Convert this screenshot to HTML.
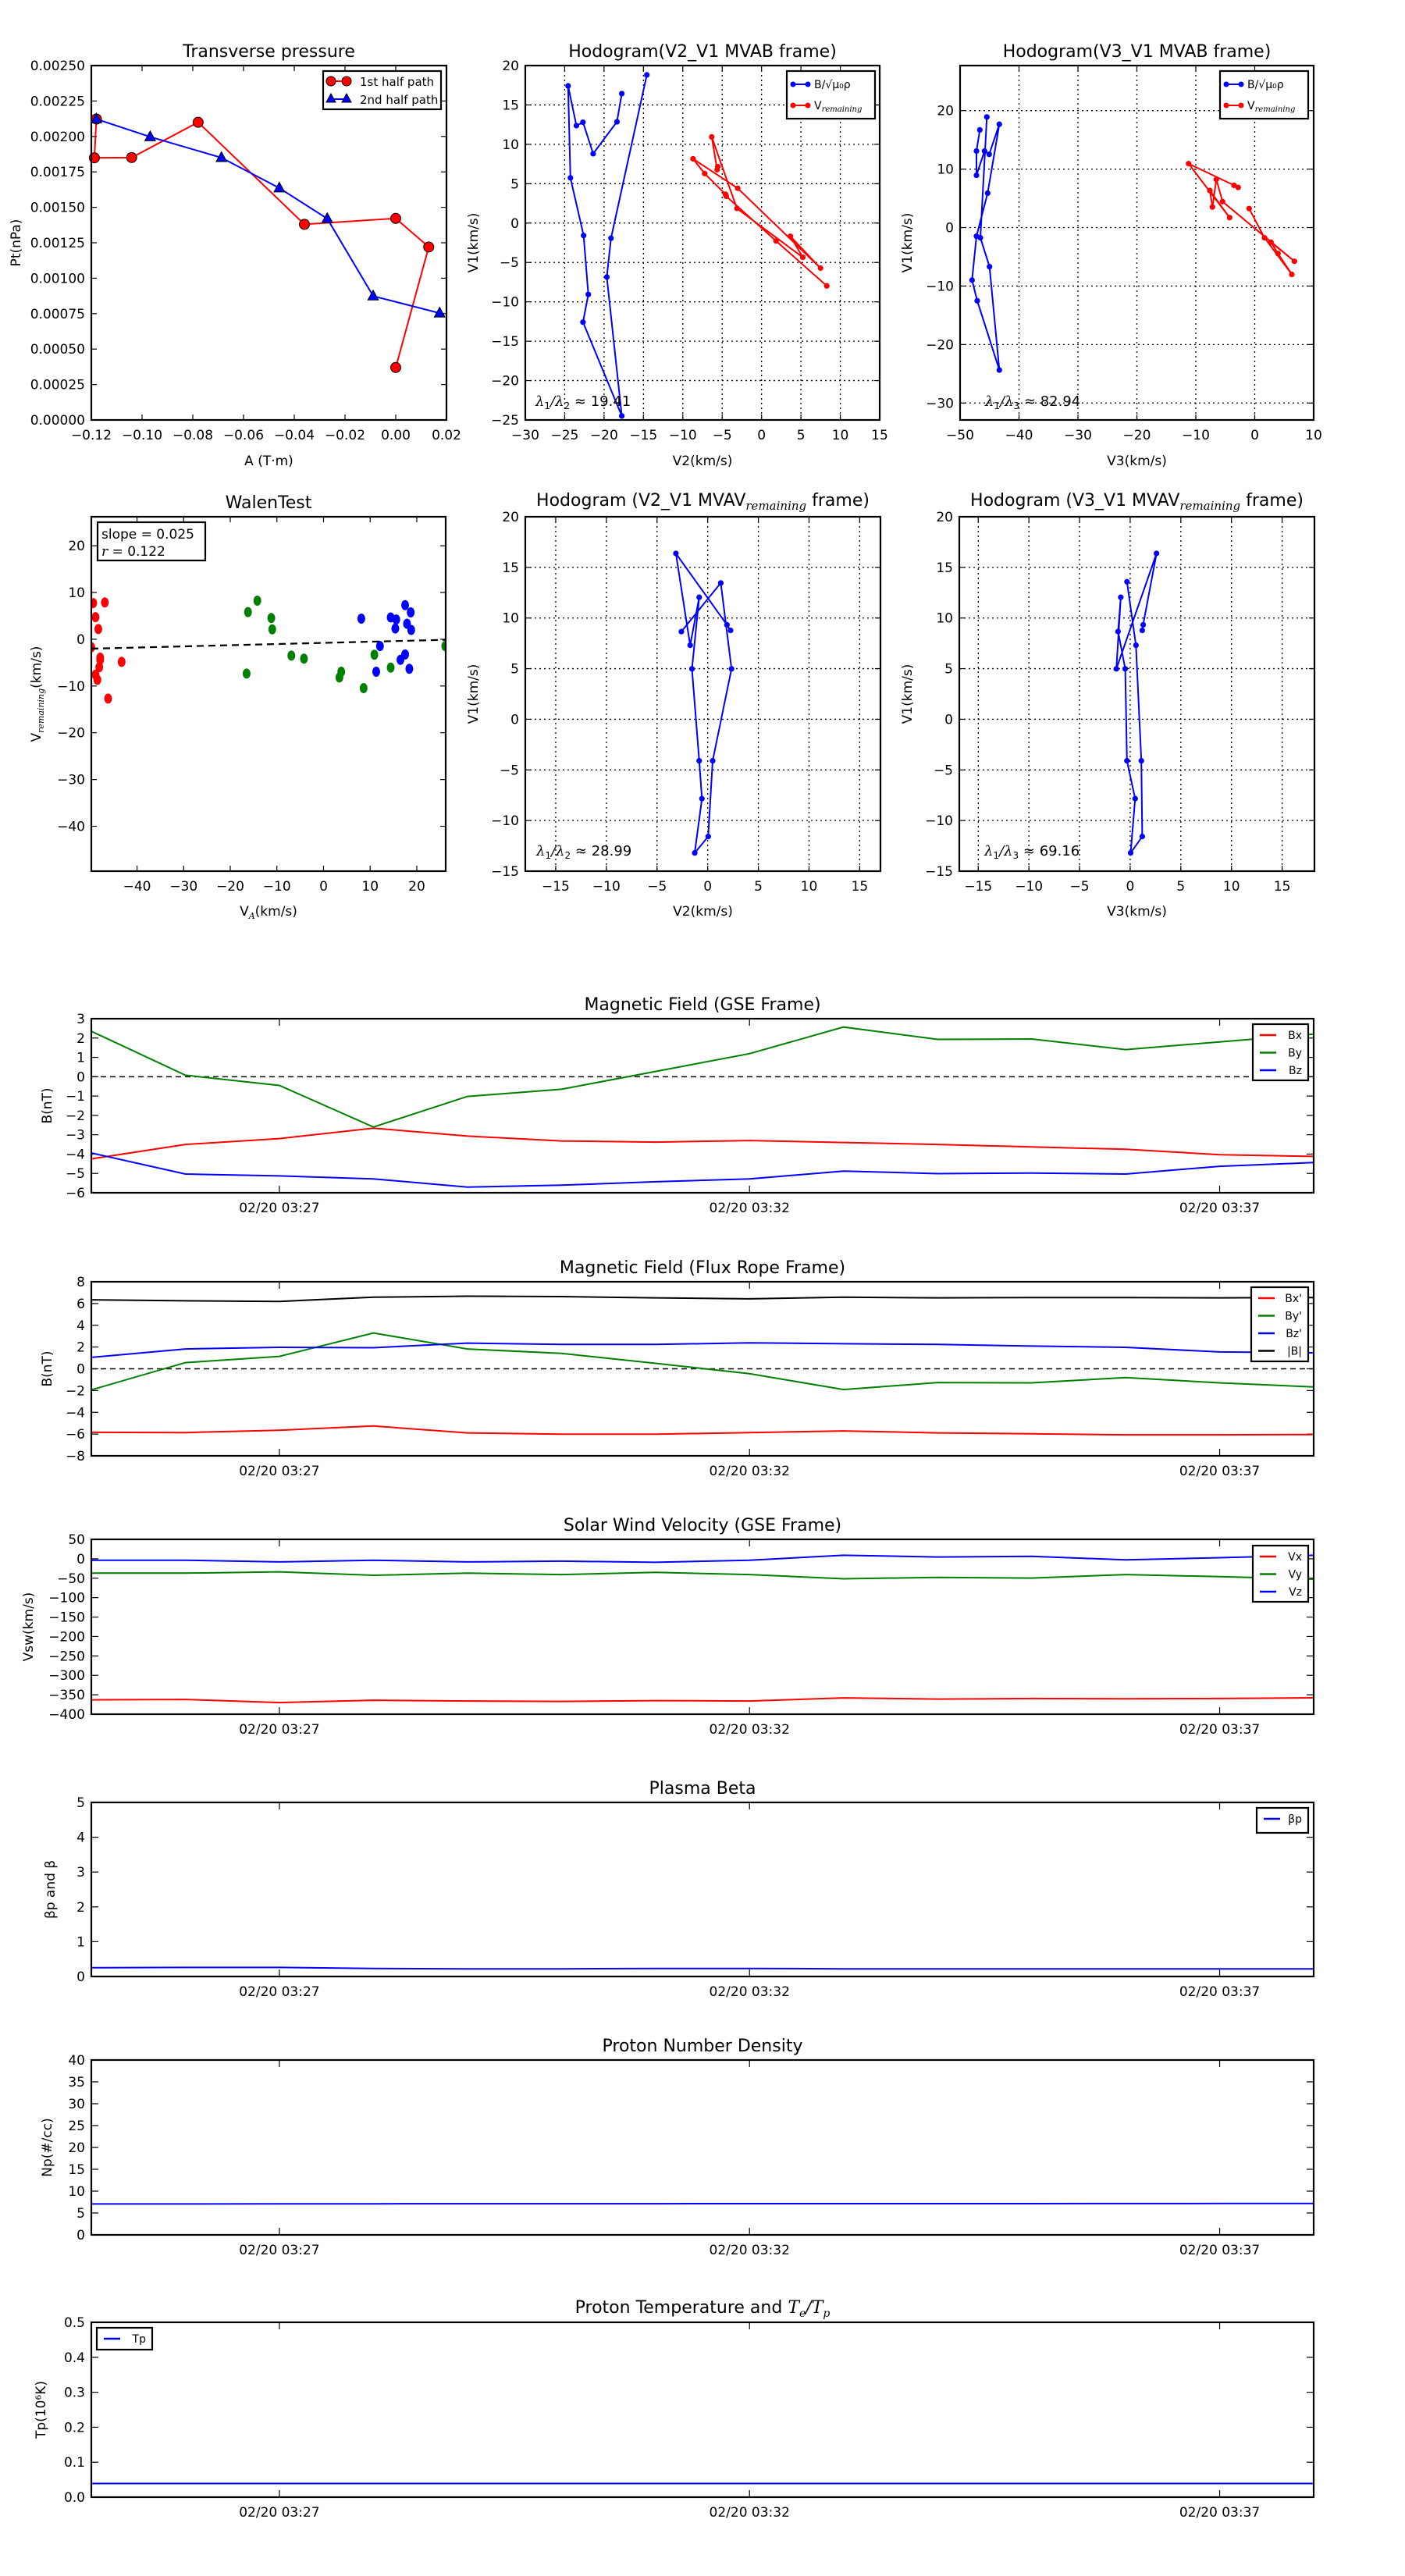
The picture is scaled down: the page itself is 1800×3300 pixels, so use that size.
<!DOCTYPE html>
<html><head><meta charset="utf-8"><title>Flux rope analysis</title>
<style>html,body{margin:0;padding:0;background:#fff}svg{display:block}</style></head>
<body>
<svg id="fig" xmlns="http://www.w3.org/2000/svg" width="1800" height="3300" viewBox="0 0 1800 3300" font-family="DejaVu Sans, Liberation Sans, sans-serif">
<rect x="0" y="0" width="1800" height="3300" fill="#fff"/>
</svg>
<script>
// ===== data =====
const tpRedA=[-0.0, 0.013, 0.0, -0.036, -0.0779, -0.1041, -0.1188, -0.118];
const tpRedP=[0.00037, 0.00122, 0.001422, 0.00138, 0.0021, 0.001851, 0.001849, 0.002123];
const tpBlueA=[-0.118, -0.0968, -0.0687, -0.0459, -0.027, -0.0089, 0.0173];
const tpBlueP=[0.002123, 0.001997, 0.00185, 0.001636, 0.00142, 0.000874, 0.000754];

const h1BlueX=[-17.75,-18.36,-21.39,-22.68,-23.51,-24.57,-24.27,-22.60,-22.00,-22.68,-17.75,-19.65,-19.12,-14.57];
const h1BlueY=[16.44,12.86,8.81,12.80,12.37,17.42,5.74,-1.58,-9.06,-12.58,-24.49,-6.85,-1.92,18.82];
const h1RedX=[-5.57,-5.64,-6.33,-3.13,5.24,3.66,7.49,-3.03,-8.70,-7.22,-4.58,-4.48,1.85,8.28];
const h1RedY=[7.17,6.78,10.94,1.86,-4.34,-1.68,-5.72,4.42,8.16,6.29,3.66,3.40,-2.27,-7.98];

const h2BlueX=[-46.65,-47.22,-47.22,-45.85,-45.06,-43.34,-45.32,-47.22,-47.97,-47.09,-43.34,-45.01,-46.56,-45.46];
const h2BlueY=[16.70,13.09,8.94,13.09,12.52,17.68,5.89,-1.48,-8.99,-12.52,-24.36,-6.69,-1.75,18.91];
const h2RedX=[-2.81,-3.51,-11.23,-4.26,-7.62,-7.18,-6.52,-5.46,6.73,2.75,3.95,6.29,1.66,-0.95];
const h2RedY=[6.86,7.22,10.93,1.70,6.33,3.51,8.23,4.44,-5.76,-2.50,-4.44,-8.01,-1.75,3.25];

const walRedX=[-49.4,-46.9,-48.9,-48.3,-49.8,-47.9,-47.9,-48.1,-48.9,-48.5,-46.2,-43.3];
const walRedY=[7.74,7.87,4.73,2.18,-1.71,-3.94,-4.4,-5.99,-7.59,-8.67,-12.69,-4.84];
const walGreenX=[-16.2,-14.2,-11.2,-11.0,-16.5,-6.9,-4.2,3.8,3.4,8.6,10.9,14.4,26.1];
const walGreenY=[5.81,8.25,4.54,2.12,-7.34,-3.5,-4.14,-6.94,-8.17,-10.45,-3.31,-6.06,-1.46];
const walBlueX=[8.1,14.4,15.6,15.4,12.1,17.5,18.7,17.9,18.8,11.3,16.5,17.5,18.4];
const walBlueY=[4.41,4.67,4.22,2.3,-1.46,7.29,5.75,3.33,1.99,-6.94,-4.39,-3.25,-6.31];
const walFit=[0.025,-0.77];

const h3X=[2.26,1.90,-3.14,-1.73,-0.84,-1.55,-0.84,-0.57,-1.28,0.05,0.49,2.35,1.29,-2.60];
const h3Y=[8.78,9.33,16.38,7.31,12.05,4.98,-4.10,-7.84,-13.20,-11.58,-4.10,4.98,13.46,8.66];
const h4X=[1.19,1.28,2.60,-1.37,-0.93,-1.20,-0.49,-0.32,0.49,0.04,1.19,1.10,0.57,-0.32];
const h4Y=[8.78,9.33,16.38,4.98,12.05,8.66,4.98,-4.10,-7.84,-13.20,-11.58,-4.10,7.31,13.58];

const tMin=[0,1,2,3,4,5,6,7,8,9,10,11,12,13];
const timeTickVals=[2,7,12];
const timeTickLabels=["02/20 03:27","02/20 03:32","02/20 03:37"];
const bxGSE=[-4.25,-3.5,-3.2,-2.66,-3.07,-3.32,-3.38,-3.3,-3.4,-3.5,-3.63,-3.75,-4.03,-4.12];
const byGSE=[2.35,0.08,-0.45,-2.6,-1.02,-0.65,0.27,1.19,2.57,1.93,1.95,1.4,1.8,2.2];
const bzGSE=[-3.94,-5.03,-5.13,-5.28,-5.71,-5.61,-5.43,-5.28,-4.88,-5.01,-4.98,-5.03,-4.63,-4.44];
const bxFR=[-5.83,-5.86,-5.65,-5.26,-5.89,-6.01,-6.01,-5.86,-5.71,-5.89,-5.98,-6.07,-6.07,-6.04];
const byFR=[-1.94,0.57,1.14,3.29,1.82,1.41,0.5,-0.45,-1.91,-1.26,-1.29,-0.81,-1.29,-1.67];
const bzFR=[1.05,1.82,1.97,1.94,2.36,2.24,2.24,2.39,2.3,2.24,2.09,1.97,1.55,1.47];
const bmFR=[6.34,6.25,6.19,6.58,6.67,6.64,6.52,6.43,6.58,6.52,6.55,6.55,6.52,6.55];
const vx=[-363,-362,-370,-364,-366,-367,-365,-366,-358,-361,-359.6,-360.5,-359.6,-357.8];
const vy=[-37,-37,-33.5,-42.5,-37,-40.6,-35,-40.6,-51.5,-47.9,-49.7,-40.6,-46,-52.4];
const vz=[-3.6,-3.6,-8,-3.6,-8,-6,-9,-3.6,9,4.5,6.3,-2.7,2.7,9];
const betaP=[0.25,0.26,0.26,0.23,0.22,0.22,0.23,0.23,0.22,0.22,0.22,0.22,0.22,0.22];
const np=[7.08,7.08,7.1,7.1,7.12,7.12,7.12,7.14,7.14,7.15,7.15,7.16,7.18,7.2];
const tp=[0.039,0.039,0.039,0.039,0.039,0.039,0.039,0.039,0.039,0.039,0.039,0.039,0.039,0.039];

// ===== helpers =====
const NS="http://www.w3.org/2000/svg";
const svg=document.getElementById('fig');
function mk(tag,parent,attrs){const e=document.createElementNS(NS,tag);for(const k in attrs)e.setAttribute(k,attrs[k]);parent.appendChild(e);return e;}
function fmtMinus(s){return String(s).replace('-','\u2212');}
function txt(parent,x,y,str,size,anchor){const t=mk('text',parent,{x:x,y:y,'font-size':size,'text-anchor':anchor||'middle',fill:'#000'});t.textContent=str;return t;}

function makeAxes(name,x0,y0,x1,y1,xlim,ylim){
  const g=mk('g',svg,{});
  
  
  const ax={g:g,x0:x0,y0:y0,x1:x1,y1:y1,
    x:v=>x0+(v-xlim[0])/(xlim[1]-xlim[0])*(x1-x0),
    y:v=>y1-(v-ylim[0])/(ylim[1]-ylim[0])*(y1-y0)};
  return ax;
}
function frame(ax){
  const r=mk('rect',ax.g,{x:ax.x0,y:ax.y0,width:ax.x1-ax.x0,height:ax.y1-ax.y0,fill:'none',stroke:'#000','stroke-width':2.2});
  
  
}
function xticks(ax,vals,labels,grid,len){
  len=len||7;
  const tg=mk('g',ax.g,{});
  
  
  vals.forEach((v,i)=>{
    const X=ax.x(v);
    if(grid && X>ax.x0+1 && X<ax.x1-1) mk('line',tg,{x1:X,y1:ax.y0,x2:X,y2:ax.y1,stroke:'#000','stroke-width':1.3,'stroke-dasharray':'2,4'});
    mk('line',tg,{x1:X,y1:ax.y1,x2:X,y2:ax.y1-len,stroke:'#000','stroke-width':1.2});
    mk('line',tg,{x1:X,y1:ax.y0,x2:X,y2:ax.y0+len,stroke:'#000','stroke-width':1.2});
    const t=txt(tg,X,ax.y1+25,labels[i],17,'middle');
    
    
  });
}
function yticks(ax,vals,labels,grid,len){
  len=len||7;
  const tg=mk('g',ax.g,{});
  
  
  vals.forEach((v,i)=>{
    const Y=ax.y(v);
    if(grid && Y>ax.y0+1 && Y<ax.y1-1) mk('line',tg,{x1:ax.x0,y1:Y,x2:ax.x1,y2:Y,stroke:'#000','stroke-width':1.3,'stroke-dasharray':'2,4'});
    mk('line',tg,{x1:ax.x0,y1:Y,x2:ax.x0+len,y2:Y,stroke:'#000','stroke-width':1.2});
    mk('line',tg,{x1:ax.x1,y1:Y,x2:ax.x1-len,y2:Y,stroke:'#000','stroke-width':1.2});
    const t=txt(tg,ax.x0-8,Y+6,labels[i],17,'end');
    
    
  });
}
function rng(a,b,s){const r=[];for(let v=a;v<=b+1e-9;v+=s)r.push(Math.round(v*1e6)/1e6);return r;}
function title(ax,str,name){const t=txt(ax.g,(ax.x0+ax.x1)/2,ax.y0-11,str,22,'middle');return t;}
function xlabel(ax,str,y){const t=txt(ax.g,(ax.x0+ax.x1)/2,y,str,17,'middle');return t;}
function ylabel(ax,str,x){const cy=(ax.y0+ax.y1)/2;const t=mk('text',ax.g,{x:x,y:cy,'font-size':17,'text-anchor':'middle',transform:'rotate(-90 '+x+' '+cy+')'});t.textContent=str;return t;}
function pathOf(ax,xs,ys){return xs.map((v,i)=>(i?'L':'M')+ax.x(v).toFixed(1)+','+ax.y(ys[i]).toFixed(1)).join(' ');}
function clip(ax,id){const d=mk('defs',svg,{});const c=mk('clipPath',d,{id:id});mk('rect',c,{x:ax.x0,y:ax.y0,width:ax.x1-ax.x0,height:ax.y1-ax.y0});}
function legendBox(parent,x,y,w,h){const r=mk('rect',parent,{x:x,y:y,width:w,height:h,fill:'#fff',stroke:'#000','stroke-width':2.2});return r;}

// ===== Transverse pressure =====
(function(){
  const ax=makeAxes('transverse-pressure-chart',117,84,572,538,[-0.12,0.02],[0,0.0025]);
  clip(ax,'c1');
  const xv=rng(-0.12,0.02,0.02);
  xticks(ax,xv,xv.map(v=>fmtMinus(v.toFixed(2))),false);
  const yv=rng(0,0.0025,0.00025);
  yticks(ax,yv,yv.map(v=>v.toFixed(5)),false);
  const sg=mk('g',ax.g,{'clip-path':'url(#c1)'});
  const pr=mk('path',sg,{d:pathOf(ax,tpRedA,tpRedP),fill:'none',stroke:'#f00','stroke-width':2});
  
  
  const pb=mk('path',sg,{d:pathOf(ax,tpBlueA,tpBlueP),fill:'none',stroke:'#00f','stroke-width':2});
  
  
  tpRedA.forEach((v,i)=>{
    const c=mk('circle',ax.g,{cx:ax.x(v),cy:ax.y(tpRedP[i]),r:6.5,fill:'#f00',stroke:'#000','stroke-width':1});
    
    
  });
  tpBlueA.forEach((v,i)=>{
    const X=ax.x(v),Y=ax.y(tpBlueP[i]);
    const p=mk('polygon',ax.g,{points:`${X},${Y-7.5} ${X-6.8},${Y+5} ${X+6.8},${Y+5}`,fill:'#00f',stroke:'#000','stroke-width':1});
    
    
  });
  frame(ax);
  title(ax,'Transverse pressure');
  xlabel(ax,'A (T\u00b7m)',596);
  ylabel(ax,'Pt(nPa)',26);
  const lg=mk('g',ax.g,{});
  
  
  legendBox(lg,414,91,151,49);
  mk('line',lg,{x1:424,y1:104,x2:444,y2:104,stroke:'#f00','stroke-width':2});
  mk('circle',lg,{cx:424,cy:104,r:6,fill:'#f00',stroke:'#000','stroke-width':1});
  mk('circle',lg,{cx:444,cy:104,r:6,fill:'#f00',stroke:'#000','stroke-width':1});
  const l1=txt(lg,461,110,'1st half path',15,'start');
  
  
  mk('line',lg,{x1:424,y1:127,x2:444,y2:127,stroke:'#00f','stroke-width':2});
  mk('polygon',lg,{points:'424,120 418,131 430,131',fill:'#00f',stroke:'#000','stroke-width':1});
  mk('polygon',lg,{points:'444,120 438,131 450,131',fill:'#00f',stroke:'#000','stroke-width':1});
  const l2=txt(lg,461,133,'2nd half path',15,'start');
  
  
})();

function series(ax,xs,ys,color,name,r,clipId){
  const g=mk('g',ax.g,clipId?{'clip-path':'url(#'+clipId+')'}:{});
  const p=mk('path',g,{d:pathOf(ax,xs,ys),fill:'none',stroke:color,'stroke-width':2});
  
  
  if(r) xs.forEach((v,i)=>{
    const c=mk('circle',g,{cx:ax.x(v),cy:ax.y(ys[i]),r:r,fill:color});
    
    
  });
}
function lambdaText(ax,x,y,sub,val){
  const t=mk('text',ax.g,{x:x,y:y,'font-size':18});
  
  
  const a=mk('tspan',t,{'font-family':'DejaVu Serif, Liberation Serif, serif','font-style':'italic'});a.textContent='\u03bb';
  const b=mk('tspan',t,{'font-size':12,dy:4});b.textContent='1';
  const c=mk('tspan',t,{dy:-4,'font-family':'DejaVu Serif, Liberation Serif, serif','font-style':'italic'});c.textContent='/\u03bb';
  const d=mk('tspan',t,{'font-size':12,dy:4});d.textContent=sub;
  const e=mk('tspan',t,{dy:-4});e.textContent=' \u2248 '+val;
}
function hodoLegend(ax,x,y){
  const lg=mk('g',ax.g,{});
  
  
  legendBox(lg,x,y,113,61);
  mk('line',lg,{x1:x+8,y1:y+17,x2:x+27,y2:y+17,stroke:'#00f','stroke-width':2});
  mk('circle',lg,{cx:x+8,cy:y+17,r:3.5,fill:'#00f'});mk('circle',lg,{cx:x+27,cy:y+17,r:3.5,fill:'#00f'});
  const t1=txt(lg,x+35,y+22,'B/\u221a\u03bc\u2080\u03c1',14,'start');
  
  
  mk('line',lg,{x1:x+8,y1:y+44,x2:x+27,y2:y+44,stroke:'#f00','stroke-width':2});
  mk('circle',lg,{cx:x+8,cy:y+44,r:3.5,fill:'#f00'});mk('circle',lg,{cx:x+27,cy:y+44,r:3.5,fill:'#f00'});
  const t2=mk('text',lg,{x:x+35,y:y+49,'font-size':14});
  
  
  const s1=mk('tspan',t2,{});s1.textContent='V';
  const s2=mk('tspan',t2,{'font-size':10,dy:3,'font-style':'italic','font-family':'DejaVu Serif, serif'});s2.textContent='remaining';
}

// ===== Hodogram 1 =====
(function(){
  const ax=makeAxes('hodogram-v2-v1-mvab-chart',673,84,1127,538,[-30,15],[-25,20]);
  clip(ax,'c2');
  const xv=rng(-30,15,5), yv=rng(-25,20,5);
  xticks(ax,xv,xv.map(fmtMinus),true);
  yticks(ax,yv,yv.map(fmtMinus),true);
  series(ax,h1BlueX,h1BlueY,'#00f','b-alfven',3.6,'c2');
  series(ax,h1RedX,h1RedY,'#f00','v-remaining',3.6,'c2');
  frame(ax);
  title(ax,'Hodogram(V2_V1 MVAB frame)');
  xlabel(ax,'V2(km/s)',596);
  ylabel(ax,'V1(km/s)',612);
  hodoLegend(ax,1008,91);
  lambdaText(ax,686,520,'2','19.41');
})();
// ===== Hodogram 2 =====
(function(){
  const ax=makeAxes('hodogram-v3-v1-mvab-chart',1230,84,1683,538,[-50,10],[-32.9,27.7]);
  clip(ax,'c3');
  const xv=rng(-50,10,10), yv=rng(-30,20,10);
  xticks(ax,xv,xv.map(fmtMinus),true);
  yticks(ax,yv,yv.map(fmtMinus),true);
  series(ax,h2BlueX,h2BlueY,'#00f','b-alfven',3.6,'c3');
  series(ax,h2RedX,h2RedY,'#f00','v-remaining',3.6,'c3');
  frame(ax);
  title(ax,'Hodogram(V3_V1 MVAB frame)');
  xlabel(ax,'V3(km/s)',596);
  ylabel(ax,'V1(km/s)',1168);
  hodoLegend(ax,1563,91);
  lambdaText(ax,1262,520,'3','82.94');
})();
// ===== Walen test =====
(function(){
  const ax=makeAxes('walen-test-chart',117,662,571,1116,[-49.8,26.2],[-49.6,26.2]);
  clip(ax,'c4');
  const xv=rng(-40,20,10), yv=rng(-40,20,10);
  xticks(ax,xv,xv.map(fmtMinus),false);
  yticks(ax,yv,yv.map(fmtMinus),false);
  const g=mk('g',ax.g,{'clip-path':'url(#c4)'});
  [[walRedX,walRedY,'#f00','walen-red-point'],[walGreenX,walGreenY,'#008000','walen-green-point'],[walBlueX,walBlueY,'#00f','walen-blue-point']].forEach(s=>{
    s[0].forEach((v,i)=>{
      const c=mk('ellipse',g,{cx:ax.x(v),cy:ax.y(s[1][i]),rx:5,ry:6.5,fill:s[2]});
      
      
    });
  });
  const xa=-49.8,xb=26.2;
  const fit=mk('line',g,{x1:ax.x(xa),y1:ax.y(walFit[0]*xa+walFit[1]),x2:ax.x(xb),y2:ax.y(walFit[0]*xb+walFit[1]),stroke:'#000','stroke-width':2.2,'stroke-dasharray':'9,6'});
  
  
  frame(ax);
  title(ax,'WalenTest');
  const xl=mk('text',ax.g,{x:344,y:1173,'font-size':17,'text-anchor':'middle'});
  
  
  const a1=mk('tspan',xl,{});a1.textContent='V';
  const a2=mk('tspan',xl,{'font-size':11,dy:4,'font-style':'italic','font-family':'DejaVu Serif, serif'});a2.textContent='A';
  const a3=mk('tspan',xl,{dy:-4});a3.textContent='(km/s)';
  const cy=(662+1116)/2;
  const yl=mk('text',ax.g,{x:52,y:cy,'font-size':17,'text-anchor':'middle',transform:'rotate(-90 52 '+cy+')'});
  
  
  const b1=mk('tspan',yl,{});b1.textContent='V';
  const b2=mk('tspan',yl,{'font-size':11,dy:4,'font-style':'italic','font-family':'DejaVu Serif, serif'});b2.textContent='remaining';
  const b3=mk('tspan',yl,{dy:-4});b3.textContent='(km/s)';
  const bx=mk('g',ax.g,{});
  
  
  legendBox(bx,125,669,138,49);
  txt(bx,130,690,'slope = 0.025',17,'start');
  const r=mk('text',bx,{x:130,y:712,'font-size':17});
  const r1=mk('tspan',r,{'font-style':'italic','font-family':'DejaVu Serif, serif'});r1.textContent='r';
  const r2=mk('tspan',r,{});r2.textContent=' = 0.122';
})();
function mvavTitle(ax,v){
  const t=mk('text',ax.g,{x:(ax.x0+ax.x1)/2,y:ax.y0-14,'font-size':22,'text-anchor':'middle'});
  
  
  const a=mk('tspan',t,{});a.textContent='Hodogram ('+v+'_V1 MVAV';
  const b=mk('tspan',t,{'font-size':15,dy:5,'font-style':'italic','font-family':'DejaVu Serif, serif'});b.textContent='remaining';
  const c=mk('tspan',t,{dy:-5});c.textContent=' frame)';
}
// ===== Hodogram 3 =====
(function(){
  const ax=makeAxes('hodogram-v2-v1-mvav-chart',673,662,1128,1116,[-18.0,17.05],[-15,20]);
  clip(ax,'c5');
  const xv=rng(-15,15,5), yv=rng(-15,20,5);
  xticks(ax,xv,xv.map(fmtMinus),true);
  yticks(ax,yv,yv.map(fmtMinus),true);
  series(ax,h3X,h3Y,'#00f','b-alfven',3.6,'c5');
  frame(ax);
  mvavTitle(ax,'V2');
  xlabel(ax,'V2(km/s)',1173);
  ylabel(ax,'V1(km/s)',612);
  lambdaText(ax,687,1096,'2','28.99');
})();
// ===== Hodogram 4 =====
(function(){
  const ax=makeAxes('hodogram-v3-v1-mvav-chart',1229,662,1684,1116,[-16.87,18.19],[-15,20]);
  clip(ax,'c6');
  const xv=rng(-15,15,5), yv=rng(-15,20,5);
  xticks(ax,xv,xv.map(fmtMinus),true);
  yticks(ax,yv,yv.map(fmtMinus),true);
  series(ax,h4X,h4Y,'#00f','b-alfven',3.6,'c6');
  frame(ax);
  mvavTitle(ax,'V3');
  xlabel(ax,'V3(km/s)',1173);
  ylabel(ax,'V1(km/s)',1168);
  lambdaText(ax,1261,1096,'3','69.16');
})();

// ===== Time series =====
function tsPanel(name,y0,y1,ylim,yv,ylabStr,ylabX,ttl,lines,zero,legend,cid){
  const ax=makeAxes(name,117,y0,1683,y1,[0,13],ylim);
  clip(ax,cid);
  xticks(ax,timeTickVals,timeTickLabels,false,9);
  yticks(ax,yv,yv.map(v=>fmtMinus(ylim[1]<1?v.toFixed(1):v)),false,9);
  if(zero){
    const z=mk('line',ax.g,{x1:ax.x0,y1:ax.y(0),x2:ax.x1,y2:ax.y(0),stroke:'#000','stroke-width':1.5,'stroke-dasharray':'7,5'});
    
    
  }
  lines.forEach(l=>series(ax,tMin,l[0],l[1],l[2],0,cid));
  frame(ax);
  if(ttl) title(ax,ttl);
  ylabel(ax,ylabStr,ylabX);
  if(legend){
    const lg=mk('g',ax.g,{});
    
    
    legendBox(lg,legend[0],legend[1],legend[2],legend[3]);
    lines.forEach((l,i)=>{
      const yy=legend[1]+14+i*22.5;
      mk('line',lg,{x1:legend[0]+9,y1:yy,x2:legend[0]+30,y2:yy,stroke:l[1],'stroke-width':2.5});
      const t=txt(lg,legend[0]+legend[2]-8,yy+5,l[3],14,'end');
      
      
    });
  }
  return ax;
}
tsPanel('magnetic-field-gse-chart',1305,1528,[-6,3],rng(-6,3,1),'B(nT)',66,'Magnetic Field (GSE Frame)',
  [[bxGSE,'#f00','bx','Bx'],[byGSE,'#008000','by','By'],[bzGSE,'#00f','bz','Bz']],true,[1605,1312,71,72],'t1');
tsPanel('magnetic-field-flux-rope-chart',1642,1865,[-8,8],rng(-8,8,2),'B(nT)',66,'Magnetic Field (Flux Rope Frame)',
  [[bxFR,'#f00','bx-prime',"Bx'"],[byFR,'#008000','by-prime',"By'"],[bzFR,'#00f','bz-prime',"Bz'"],[bmFR,'#000','b-magnitude','|B|']],true,[1603,1649,73,95],'t2');
tsPanel('solar-wind-velocity-chart',1972,2196,[-400,50],rng(-400,50,50),'Vsw(km/s)',42,'Solar Wind Velocity (GSE Frame)',
  [[vx,'#f00','vx','Vx'],[vy,'#008000','vy','Vy'],[vz,'#00f','vz','Vz']],false,[1605,1980,71,72],'t3');
tsPanel('plasma-beta-chart',2309,2532,[0,5],rng(0,5,1),'\u03b2p and \u03b2',70,'Plasma Beta',
  [[betaP,'#00f','beta-p','\u03b2p']],false,[1610,2316,66,32],'t4');
tsPanel('proton-density-chart',2639,2863,[0,40],rng(0,40,5),'Np(#/cc)',66,'Proton Number Density',
  [[np,'#00f','np','']],false,null,'t5');
(function(){
  const ax=tsPanel('proton-temperature-chart',2975,3199,[0,0.5],rng(0,0.5,0.1),'Tp(10\u2076K)',58,null,
    [[tp,'#00f','tp','Tp']],false,[124,2982,71,28],'t6');
  const t=mk('text',ax.g,{x:(ax.x0+ax.x1)/2,y:ax.y0-12,'font-size':22,'text-anchor':'middle'});
  
  
  const a=mk('tspan',t,{});a.textContent='Proton Temperature and ';
  const b=mk('tspan',t,{'font-style':'italic','font-family':'DejaVu Serif, serif'});b.textContent='T';
  const c=mk('tspan',t,{'font-size':14,dy:5,'font-style':'italic','font-family':'DejaVu Serif, serif'});c.textContent='e';
  const d=mk('tspan',t,{dy:-5,'font-style':'italic','font-family':'DejaVu Serif, serif'});d.textContent='/T';
  const e=mk('tspan',t,{'font-size':14,dy:5,'font-style':'italic','font-family':'DejaVu Serif, serif'});e.textContent='p';
})();
</script>
</body></html>
